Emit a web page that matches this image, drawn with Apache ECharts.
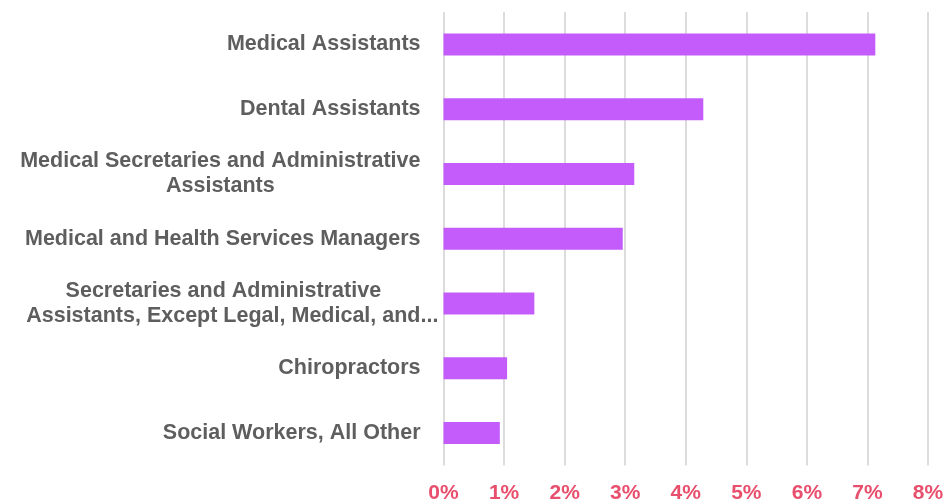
<!DOCTYPE html>
<html>
<head>
<meta charset="utf-8">
<script src="https://cdn.jsdelivr.net/npm/echarts@6/dist/echarts.min.js"></script>
<style>
html,body{margin:0;padding:0;background:#fff;}
#chart{width:946px;height:500px;}
</style>
</head>
<body>
<div id="chart"></div>
<script>
// Categories listed top to bottom ("..." marks a truncated label)
const categories = [
  "Medical Assistants",
  "Dental Assistants",
  "Medical Secretaries and Administrative\nAssistants",
  "Medical and Health Services Managers",
  "Secretaries and Administrative\nAssistants, Except Legal, Medical, and...",
  "Chiropractors",
  "Social Workers, All Other"
];
const values = [7.13, 4.29, 3.15, 2.96, 1.50, 1.05, 0.93];
const tickMin = 0;
const tickMax = 8;
const tickStep = 1;

const FONT = 'Liberation Sans, Arial, sans-serif';
const chart = echarts.init(document.getElementById('chart'), null, {renderer: 'canvas'});

function fmtLabel(v) {
  return v.split('\n').map(l => {
    if (l.endsWith('...')) {
      // trailing ellipsis overflows past the label's right edge, as in the source
      return '{c|' + l.slice(0, -3) + '}{e|   ...}';
    }
    return '{c|' + l + '}';
  }).join('\n');
}

chart.setOption({
  animation: false,
  grid: {left: 443.5, right: 18, top: 12, bottom: 34.5, containLabel: false, outerBoundsMode: 'none'},
  xAxis: {
    type: 'value',
    min: tickMin, max: tickMax, interval: tickStep,
    axisLine: {show: false},
    axisTick: {show: false},
    splitLine: {show: true, lineStyle: {color: '#dcdcdc', width: 2}},
    axisLabel: {
      formatter: v => v + '%',
      color: '#e84f6d',
      fontFamily: FONT,
      fontWeight: 'bold',
      fontSize: 21,
      margin: 17
    }
  },
  yAxis: {
    type: 'category',
    inverse: true,
    data: categories,
    axisLine: {show: false},
    axisTick: {show: false},
    axisLabel: {
      margin: 23,
      color: '#5e5e5e',
      fontFamily: FONT,
      fontWeight: 'bold',
      fontSize: 21.5,
      lineHeight: 25,
      formatter: fmtLabel,
      rich: {
        c: {
          align: 'center',
          color: '#5e5e5e',
          fontFamily: FONT,
          fontWeight: 'bold',
          fontSize: 21.5,
          lineHeight: 25
        },
        e: {
          align: 'center',
          width: 0,
          color: '#5e5e5e',
          fontFamily: FONT,
          fontWeight: 'bold',
          fontSize: 21.5,
          lineHeight: 25
        }
      }
    }
  },
  series: [{
    type: 'bar',
    data: values,
    barWidth: 22,
    itemStyle: {color: '#c45cfc'}
  }]
});
</script>
</body>
</html>
